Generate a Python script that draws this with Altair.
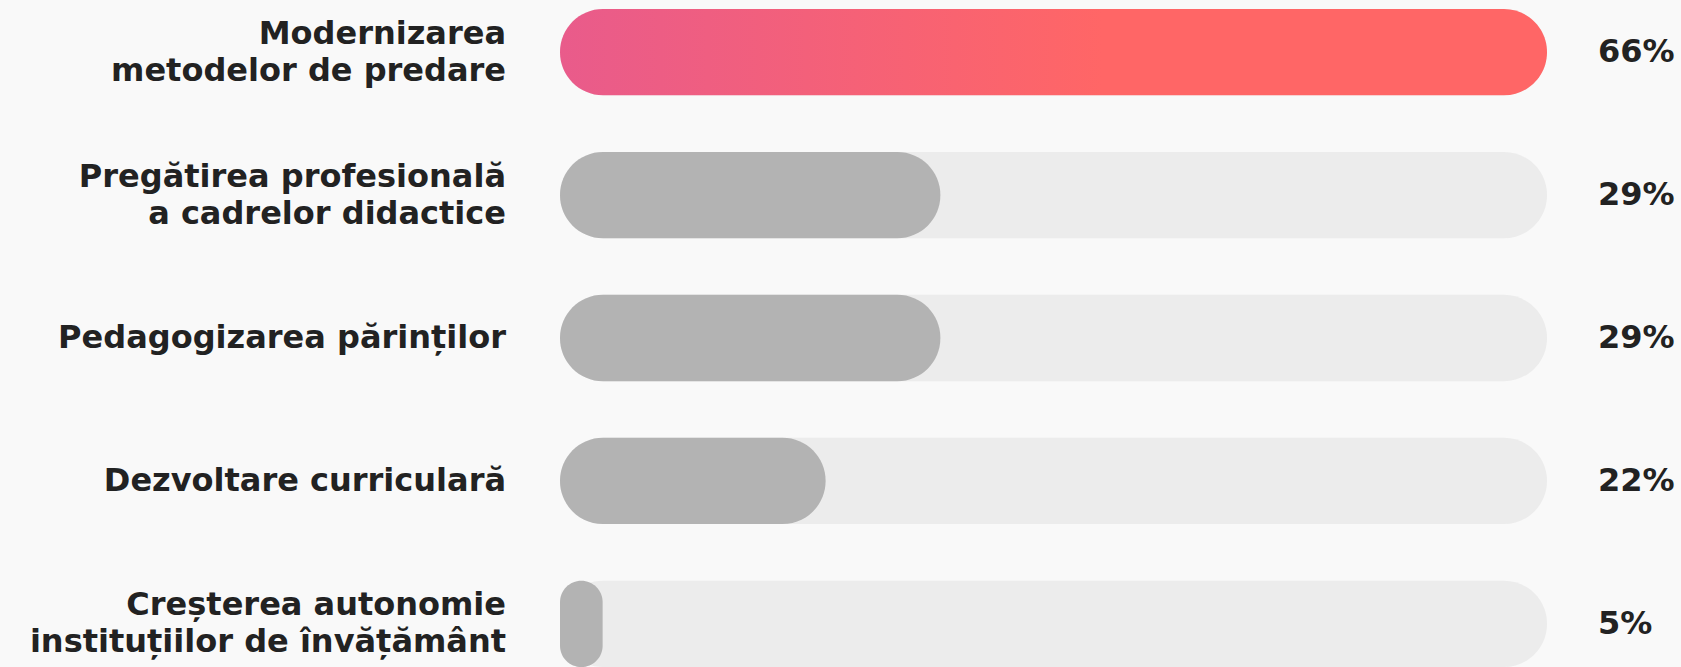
import altair as alt
import pandas as pd

# ---- data ----
categories = [
    "Modernizarea\nmetodelor de predare",
    "Pregătirea profesională\na cadrelor didactice",
    "Pedagogizarea părinților",
    "Dezvoltare curriculară",
    "Creșterea autonomie\ninstituțiilor de învățământ",
]
values = [66, 29, 29, 22, 5]
pct_labels = ["66%", "29%", "29%", "22%", "5%"]

# scale settings
X_MIN = 5.8          # origin of the track scale
MIN_VISIBLE = 8.4    # smallest drawn bar end (keeps tiny values visible)
X_MAX = max(values)

FONT = "DejaVu Sans"
TEXT_COLOR = "#222222"
LABEL_SIZE = 32
LINE_H = 37

df = pd.DataFrame({"category": categories, "value": values, "label": pct_labels})

y_enc = alt.Y(
    "category:N",
    sort=categories,
    scale=alt.Scale(paddingInner=0.396, paddingOuter=0),
    axis=None,
)
xscale = alt.Scale(domain=[X_MIN, X_MAX], clamp=True, nice=False, zero=False)

base = alt.Chart(df).transform_calculate(
    start=str(X_MIN),
    track_end=str(X_MAX),
    bar_end=f"max(datum.value, {MIN_VISIBLE})",
    lines="indexof(datum.category, '\\n') >= 0 ? 2 : 1",
)

track = base.mark_bar(color="#ececec", cornerRadius=43).encode(
    y=y_enc,
    x=alt.X("start:Q", scale=xscale, axis=None),
    x2="track_end:Q",
)

gray = base.transform_filter(f"datum.value < {X_MAX}").mark_bar(
    color="#b3b3b3", cornerRadius=43
).encode(
    y=y_enc,
    x=alt.X("start:Q", scale=xscale, axis=None),
    x2="bar_end:Q",
)

grad = alt.LinearGradient(
    gradient="linear",
    stops=[
        alt.GradientStop(offset=0, color="#e95b8b"),
        alt.GradientStop(offset=0.55, color="#ff6666"),
        alt.GradientStop(offset=1, color="#ff6666"),
    ],
    x1=0, x2=1, y1=0, y2=0,
)
top = base.transform_filter(f"datum.value == {X_MAX}").mark_bar(
    color=grad, cornerRadius=43
).encode(
    y=y_enc,
    x=alt.X("start:Q", scale=xscale, axis=None),
    x2="bar_end:Q",
)

label_style = dict(
    align="right", baseline="middle", lineBreak="\n", lineHeight=LINE_H,
    fontSize=LABEL_SIZE, font=FONT, fontWeight="bold", color=TEXT_COLOR, dx=-54,
)
labels_one = base.transform_filter("datum.lines == 1").mark_text(**label_style).encode(
    y=y_enc,
    x=alt.X("start:Q", scale=xscale, axis=None),
    text="category:N",
)
labels_two = base.transform_filter("datum.lines == 2").mark_text(
    dy=-LINE_H / 2, **label_style
).encode(
    y=y_enc,
    x=alt.X("start:Q", scale=xscale, axis=None),
    text="category:N",
)

pct = base.mark_text(
    align="left", baseline="middle", dx=51,
    fontSize=32, font=FONT, fontWeight="bold", color=TEXT_COLOR,
).encode(
    y=y_enc,
    x=alt.X("track_end:Q", scale=xscale, axis=None),
    text="label:N",
)

chart = (
    alt.layer(track, gray, top, labels_one, labels_two, pct)
    .properties(
        width=987,
        height=658,
        padding={"left": 560, "top": 9, "right": 134, "bottom": 0},
        autosize=alt.AutoSizeParams(type="none"),
        background="#f9f9f9",
    )
    .configure_view(stroke=None)
)

chart.save("out.html", embed_options={"renderer": "svg", "actions": False})
